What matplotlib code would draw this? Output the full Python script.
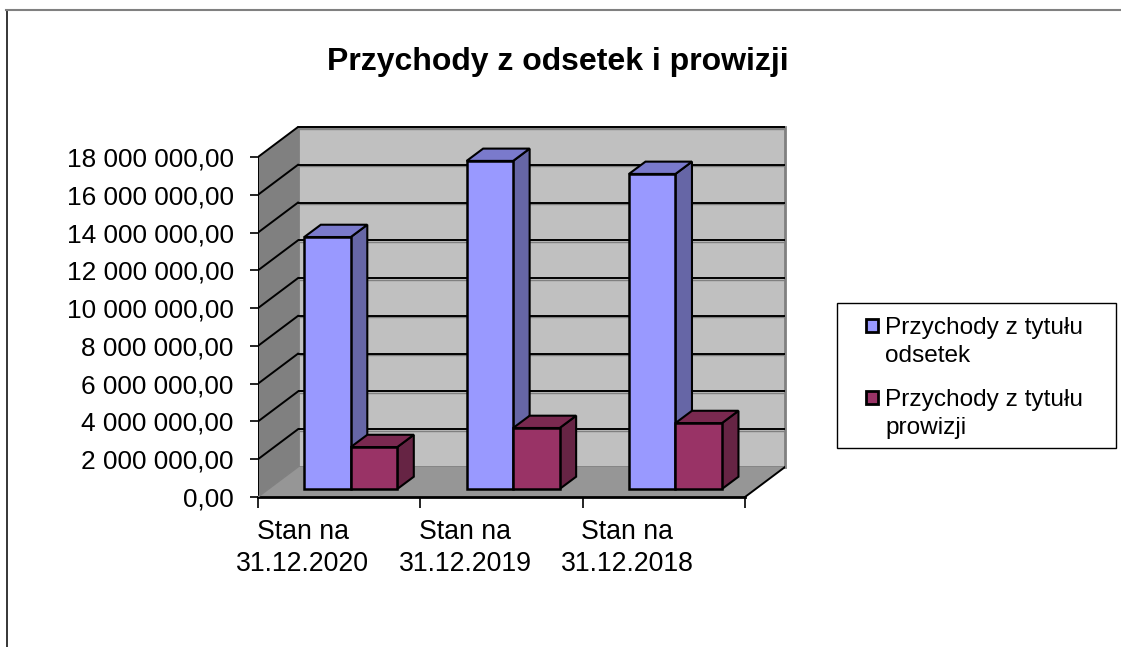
import numpy as np
import matplotlib
matplotlib.use('Agg')
import matplotlib.pyplot as plt
from matplotlib.patches import Polygon, Rectangle

# values
categories = ['Stan na\n31.12.2020', 'Stan na\n31.12.2019', 'Stan na\n31.12.2018']
odsetki = [13340000, 17370000, 16680000]
prowizje = [2220000, 3230000, 3490000]
y_ticks = [0, 2000000, 4000000, 6000000, 8000000, 10000000, 12000000, 14000000, 16000000, 18000000]
series_names = ['Przychody z tytułu\nodsetek', 'Przychody z tytułu\nprowizji']
title = 'Przychody z odsetek i prowizji'

W, H = 1121, 647
plt.rcParams['font.family'] = ['Liberation Sans', 'DejaVu Sans']

fig = plt.figure(figsize=(W / 100, H / 100), dpi=100)

# axes spans front plane plus the 3d depth
left, right, top, bottom = 258, 785, 126, 497
ax = fig.add_axes([left / W, 1 - bottom / H, (right - left) / W, (bottom - top) / H])
px_x = 487 / 3          # pixels per category
px_y = 340 / 18000000   # pixels per unit value
ax.set_xlim(0, (right - left) / px_x)
ax.set_ylim(0, (bottom - top) / px_y)
ax.patch.set_visible(False)
for s in ax.spines.values():
    s.set_visible(False)

# wall depth and bar depth
dx, dy = 40 / px_x, 30 / px_y
bx, by = 16.5 / px_x, 12.3 / px_y
n = len(categories)
edge = 'black'


def poly(pts, fc, ec='none', lw=0, z=1):
    ax.add_patch(Polygon(pts, closed=True, facecolor=fc, edgecolor=ec, linewidth=lw, zorder=z, clip_on=False))


# back wall, side wall, floor
ymax = y_ticks[-1]
poly([(dx, dy), (n + dx, dy), (n + dx, ymax + dy), (dx, ymax + dy)], '#C0C0C0', '#808080', 2, 1)
poly([(0, 0), (dx, dy), (dx, ymax + dy), (0, ymax)], '#808080', z=1.5)
poly([(0, 0), (dx, dy), (n + dx, dy), (n, 0)], '#969696', z=1.5)

# gridlines on both walls
for v in y_ticks[1:]:
    ax.plot([dx, n + dx], [v + dy - 1.6 / px_y] * 2, color='#808080', lw=1, zorder=1.9, solid_capstyle='butt')
    ax.plot([dx, n + dx], [v + dy, v + dy], color='black', lw=1.4, zorder=2, solid_capstyle='butt')
    ax.plot([0, dx], [v, v + dy], color='black', lw=1.4, zorder=2)
ax.plot([0, 0], [0, ymax], color='black', lw=1.4, zorder=2)
ax.plot([0, n], [0, 0], color='black', lw=2, zorder=2, clip_on=False)
ax.plot([n, n + dx], [0, dy], color='black', lw=1.4, zorder=2)
ax.plot([0, dx], [0, dy], color='#808080', lw=1, zorder=2)


# one 3d bar: front, top, side
def bar3d(x0, w, h, front, top_c, side, z):
    b = 8 / px_y
    poly([(x0 + w, b), (x0 + w + bx, b + by), (x0 + w + bx, b + h + by), (x0 + w, b + h)], side, edge, 1.5, z)
    poly([(x0, b + h), (x0 + bx, b + h + by), (x0 + w + bx, b + h + by), (x0 + w, b + h)], top_c, edge, 1.5, z)
    poly([(x0, b), (x0 + w, b), (x0 + w, b + h), (x0, b + h)], front, edge, 1.8, z + 0.1)


bar_w = 46.5 / px_x
start = 46.3 / px_x
for i in range(n):
    bar3d(i + start, bar_w, odsetki[i], '#9999FF', '#7A7ACC', '#6666A6', 3 + i)
    bar3d(i + start + bar_w, bar_w, prowizje[i], '#993366', '#7A2950', '#662444', 3.5 + i)

# ticks and labels
ax.set_yticks(y_ticks)
ax.set_yticklabels([f'{v:,.2f}'.replace(',', ' ').replace('.', ',') for v in y_ticks], fontsize=18.9)
ax.tick_params(axis='y', length=5.5, width=1.2, pad=12)
for lab in ax.get_yticklabels():
    lab.set_y(lab.get_position()[1])
ax.set_xticks(np.arange(n + 1))
ax.set_xticklabels([])
ax.tick_params(axis='x', which='major', length=8, width=1.2)
ax.set_xticks(np.arange(n) + 0.275, minor=True)
ax.set_xticklabels(categories, minor=True, fontsize=19.2, linespacing=1.3)
ax.tick_params(axis='x', which='minor', length=0, pad=15.5)

fig.text(558 / W, 1 - 62 / H, title, ha='center', va='center', fontsize=23, fontweight='bold')

# outer frame, open at the bottom
fig.add_artist(plt.Line2D([6.5 / W, 6.5 / W], [0, 1 - 10 / H], color='black', lw=1.1))
fig.add_artist(plt.Line2D([6 / W, 1], [1 - 10 / H, 1 - 10 / H], color='#808080', lw=1.5))

# legend box, swatch sits on the first text line
fig.add_artist(Rectangle((837 / W, 1 - 448 / H), 279 / W, 145 / H, transform=fig.transFigure,
                         facecolor='white', edgecolor='black', lw=1))
for name, c, y0 in zip(series_names, ['#9999FF', '#993366'], [325, 397.5]):
    fig.add_artist(Rectangle((865.5 / W, 1 - (y0 + 6.5) / H), 12.5 / W, 13 / H, transform=fig.transFigure,
                             facecolor=c, edgecolor='black', lw=2))
    fig.text(885 / W, 1 - (y0 - 8) / H, name, ha='left', va='top', fontsize=17.6, linespacing=1.33)

fig.savefig('out.png', dpi=100)
